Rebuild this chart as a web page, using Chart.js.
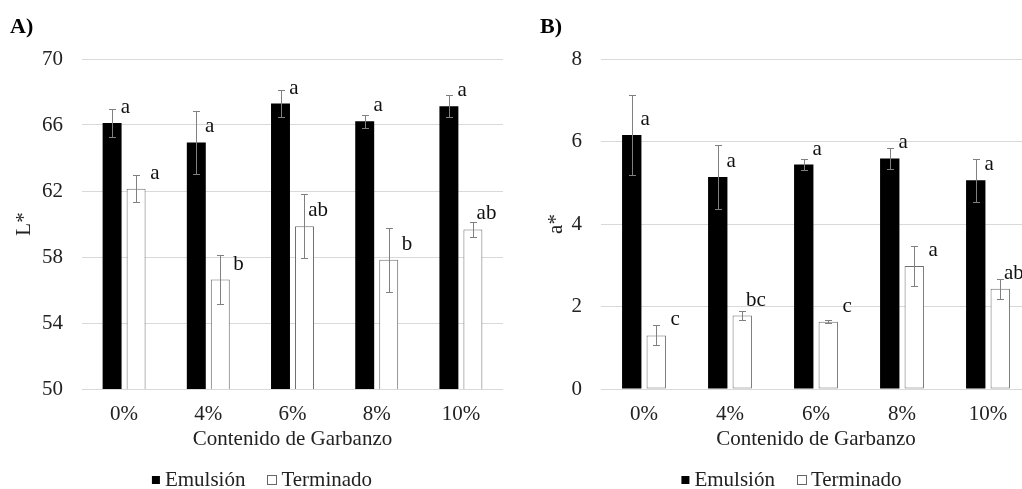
<!DOCTYPE html>
<html><head><meta charset="utf-8">
<script src="https://cdn.jsdelivr.net/npm/chart.js@4/dist/chart.umd.min.js"></script>
<style>
html,body{margin:0;padding:0;background:#fff;overflow:hidden;width:1022px;height:489px;position:relative}
canvas{position:absolute;top:0}
#cA{left:0}
#cB{left:510px}
</style></head><body>
<canvas id="cA" width="510" height="489"></canvas>
<canvas id="cB" width="530" height="489"></canvas>
<script>
// ---------- data ----------
const categories = ['0%', '4%', '6%', '8%', '10%'];
const seriesNames = ['Emulsión', 'Terminado'];
const xAxisTitle = 'Contenido de Garbanzo';

const lEmulsion = [66.12, 64.94, 67.30, 66.22, 67.13];
const lEmulsionErr = [0.84, 1.91, 0.81, 0.40, 0.66];
const lEmulsionLetters = ['a', 'a', 'a', 'a', 'a'];
const lTerminado = [62.14, 56.63, 59.86, 57.83, 59.67];
const lTerminadoErr = [0.83, 1.49, 1.95, 1.93, 0.46];
const lTerminadoLetters = ['a', 'b', 'ab', 'b', 'ab'];
const lTicks = [50, 54, 58, 62, 66, 70];

const aEmulsion = [6.16, 5.14, 5.44, 5.59, 5.06];
const aEmulsionErr = [0.96, 0.78, 0.14, 0.25, 0.52];
const aEmulsionLetters = ['a', 'a', 'a', 'a', 'a'];
const aTerminado = [1.30, 1.78, 1.63, 2.98, 2.43];
const aTerminadoErr = [0.24, 0.11, 0.04, 0.49, 0.24];
const aTerminadoLetters = ['c', 'bc', 'c', 'a', 'ab'];
const aTicks = [0, 2, 4, 6, 8];

// ---------- drawing ----------
const FONT = "'Liberation Serif','Times New Roman',serif";
Chart.defaults.font.family = FONT;
Chart.defaults.font.size = 21;
Chart.defaults.color = '#222';

const annot = {
  id: 'annot',
  afterDatasetsDraw(chart, args, opts) {
    const ctx = chart.ctx, y = chart.scales.y;
    chart.data.datasets.forEach((ds, di) => {
      const meta = chart.getDatasetMeta(di);
      meta.data.forEach((bar, i) => {
        const v = ds.data[i], e = opts.errors[di][i];
        const yt = Math.round(y.getPixelForValue(v + e)) + 0.5;
        const yb = Math.round(y.getPixelForValue(v - e)) + 0.5;
        const x = Math.round(bar.x) + 0.5;
        ctx.save();
        ctx.strokeStyle = '#808080';
        ctx.lineWidth = 1;
        ctx.beginPath();
        ctx.moveTo(x, yt); ctx.lineTo(x, yb);
        ctx.moveTo(x - 3.5, yt); ctx.lineTo(x + 3.5, yt);
        ctx.moveTo(x - 3.5, yb); ctx.lineTo(x + 3.5, yb);
        ctx.stroke();
        ctx.fillStyle = '#111';
        ctx.font = '21px ' + FONT;
        ctx.textAlign = 'right';
        ctx.textBaseline = 'alphabetic';
        ctx.fillText(opts.letters[di][i], bar.x + opts.letterDx[di], bar.y - 10);
        ctx.restore();
      });
    });
  },
  afterDraw(chart, args, opts) {
    const ctx = chart.ctx;
    ctx.save();
    // panel title
    ctx.fillStyle = '#000';
    ctx.font = 'bold 22px ' + FONT;
    ctx.textAlign = 'left';
    ctx.textBaseline = 'alphabetic';
    ctx.fillText(opts.panel, opts.panelX, 33);
    // legend
    ctx.font = '21px ' + FONT;
    const w1 = ctx.measureText(seriesNames[0]).width;
    const w2 = ctx.measureText(seriesNames[1]).width;
    const total = 8 + 5 + w1 + 22 + 10 + 4 + w2;
    let x = opts.legendCenter - total / 2;
    const base = 486;
    ctx.fillStyle = '#000';
    ctx.fillRect(x, 476, 8, 8);
    x += 13;
    ctx.fillStyle = '#222';
    ctx.fillText(seriesNames[0], x, base);
    x += w1 + 22;
    ctx.strokeStyle = '#666';
    ctx.lineWidth = 1;
    ctx.strokeRect(Math.round(x) + 0.5, 475.5, 9, 9);
    x += 14;
    ctx.fillText(seriesNames[1], x, base);
    ctx.restore();
  }
};

function makeChart(id, emul, emulErr, emulLet, term, termErr, termLet, ticks, yTitle, g) {
  return new Chart(document.getElementById(id), {
    type: 'bar',
    data: {
      labels: categories,
      datasets: [
        { label: seriesNames[0], data: emul, backgroundColor: '#000', borderWidth: 0,
          categoryPercentage: 0.57, barPercentage: 0.79 },
        { label: seriesNames[1], data: term, backgroundColor: '#fff', borderColor: '#6e6e6e',
          borderWidth: 1, borderSkipped: false, categoryPercentage: 0.57, barPercentage: 0.79 }
      ]
    },
    options: {
      responsive: false,
      animation: false,
      events: [],
      layout: { padding: { left: 0, right: g.padRight, top: 59, bottom: 0 } },
      plugins: {
        legend: { display: false },
        tooltip: { enabled: false },
        annot: {
          errors: [emulErr, termErr],
          letters: [emulLet, termLet],
          letterDx: [18, 23.5],
          panel: g.panel, panelX: g.panelX,
          legendCenter: g.legendCenter
        }
      },
      scales: {
        x: {
          grid: { display: false, drawTicks: false },
          border: { display: false },
          ticks: { padding: 13, maxRotation: 0, autoSkip: false, color: '#222' },
          title: { display: true, text: xAxisTitle, color: '#222', padding: { top: 0, bottom: 37 } },
          afterFit(s) { s.height = 100; }
        },
        y: {
          min: ticks[0], max: ticks[ticks.length - 1],
          afterBuildTicks(s) { s.ticks = ticks.map(v => ({ value: v })); },
          grid: { color: '#d9d9d9', drawTicks: false, lineWidth: 1 },
          border: { display: false },
          ticks: { padding: 19, color: '#222' },
          title: { display: true, text: yTitle, color: '#222', padding: { top: g.yTitlePad, bottom: 0 } },
          afterFit(s) { s.width = g.yWidth; }
        }
      }
    },
    plugins: [annot]
  });
}

makeChart('cA', lEmulsion, lEmulsionErr, lEmulsionLetters, lTerminado, lTerminadoErr, lTerminadoLetters,
  lTicks, 'L*', { padRight: 7, yWidth: 82, yTitlePad: 12, panel: 'A)', panelX: 10, legendCenter: 262 });
makeChart('cB', aEmulsion, aEmulsionErr, aEmulsionLetters, aTerminado, aTerminadoErr, aTerminadoLetters,
  aTicks, 'a*', { padRight: 9, yWidth: 91, yTitlePad: 34, panel: 'B)', panelX: 30, legendCenter: 281.5 });
</script>
</body></html>
